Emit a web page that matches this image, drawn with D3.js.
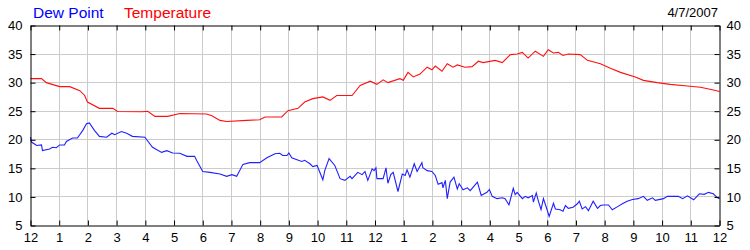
<!DOCTYPE html>
<html>
<head>
<meta charset="utf-8">
<script src="https://cdn.jsdelivr.net/npm/d3@7"></script>
<style>
  body { margin: 0; background: #fff; }
  svg { display: block; }
  text { font-family: "Liberation Sans", Arial, sans-serif; }
</style>
</head>
<body>
<div id="chart"></div>
<script>
'use strict';

// minutes after midnight, degrees
var tempTimes = [0, 23, 33, 61, 82, 103, 113, 119, 144, 172, 182, 234, 245, 260, 287, 312, 368, 379, 396, 410,
  452, 479, 490, 525, 538, 559, 573, 590, 611, 626, 640, 672, 689, 710, 724, 737, 747, 772, 779, 789,
  800, 814, 829, 839, 846, 860, 871, 883, 892, 908, 923, 936, 946, 971, 986, 1003, 1017, 1028, 1040, 1055,
  1072, 1082, 1093, 1103, 1113, 1124, 1149, 1164, 1191, 1212, 1233, 1264, 1281, 1310, 1337, 1373, 1400, 1425, 1440];
var tempValues = [30.7, 30.7, 30.0, 29.3, 29.3, 28.6, 27.8, 26.6, 25.5, 25.5, 24.95, 24.9, 25.0, 24.1, 24.1, 24.6, 24.5, 24.2, 23.4, 23.2,
  23.4, 23.5, 24.0, 24.0, 25.1, 25.5, 26.6, 27.2, 27.5, 26.9, 27.75, 27.75, 29.5, 30.25, 29.7, 30.5, 30.0, 30.7, 30.4, 31.8,
  31.0, 31.5, 32.7, 32.25, 32.9, 32.0, 33.3, 32.7, 33.1, 32.7, 32.8, 33.75, 33.5, 33.9, 33.5, 34.9, 35.0, 35.3, 34.3, 35.5,
  34.6, 35.75, 35.2, 35.3, 34.75, 35.0, 34.9, 33.9, 33.3, 32.5, 31.8, 31.0, 30.4, 30.0, 29.7, 29.4, 29.2, 28.75, 28.45];

var dewTimes = [0, 2, 13, 23, 25, 40, 46, 54, 61, 71, 75, 88, 98, 109, 117, 123, 134, 144, 159, 170,
  176, 190, 201, 213, 239, 255, 274, 285, 297, 312, 327, 343, 347, 360, 375, 396, 410, 421, 431, 444,
  458, 479, 494, 511, 521, 527, 536, 540, 546, 557, 567, 573, 584, 590, 599, 611, 615, 624, 636, 647,
  657, 668, 672, 684, 693, 699, 705, 714, 718, 722, 724, 737, 743, 747, 753, 758, 768, 777, 783, 787,
  793, 802, 808, 818, 820, 829, 839, 846, 852, 860, 862, 867, 871, 877, 885, 892, 896, 904, 913, 919,
  934, 942, 954, 959, 965, 975, 986, 992, 1000, 1009, 1013, 1017, 1028, 1034, 1040, 1049, 1051, 1057, 1061, 1067,
  1072, 1078, 1084, 1093, 1097, 1107, 1113, 1118, 1124, 1134, 1143, 1147, 1153, 1160, 1166, 1176, 1185, 1191, 1197, 1208,
  1216, 1227, 1237, 1247, 1258, 1270, 1281, 1289, 1300, 1306, 1323, 1331, 1354, 1363, 1373, 1386, 1398, 1408, 1417, 1427,
  1436, 1440];
var dewValues = [20.45, 19.6, 19.0, 19.1, 18.1, 18.4, 18.7, 18.6, 19.1, 19.1, 19.7, 20.3, 20.3, 21.6, 22.8, 22.95, 21.6, 20.6, 20.45, 21.15,
  20.9, 21.45, 21.15, 20.6, 20.45, 18.7, 17.8, 18.1, 17.7, 17.65, 17.1, 17.1, 16.4, 14.45, 14.3, 14.0, 13.6, 13.9, 13.6, 15.7,
  16.0, 16.0, 16.85, 17.55, 17.65, 17.25, 17.25, 17.7, 16.85, 16.5, 16.2, 16.4, 15.8, 15.3, 15.5, 13.0, 14.6, 16.7, 15.5, 13.2,
  12.9, 13.6, 13.2, 14.3, 13.9, 14.45, 12.9, 14.9, 14.6, 15.1, 13.2, 13.2, 15.1, 12.4, 13.9, 14.3, 10.95, 14.0, 13.75, 14.75,
  13.45, 15.8, 14.45, 16.0, 15.1, 14.6, 14.45, 13.75, 12.2, 12.5, 11.6, 12.9, 9.7, 12.6, 13.45, 11.4, 12.3, 11.25, 11.6, 11.1,
  12.6, 10.25, 10.8, 11.3, 10.1, 9.7, 9.85, 9.7, 8.6, 11.5, 10.4, 10.8, 9.7, 10.1, 9.85, 10.25, 9.1, 10.7, 9.4, 7.8,
  9.7, 8.2, 6.6, 8.9, 7.9, 7.75, 7.5, 8.5, 8.0, 8.2, 8.8, 9.25, 7.9, 8.3, 7.6, 9.25, 8.0, 8.5, 8.6, 8.6,
  7.75, 8.3, 8.8, 9.25, 9.55, 9.7, 10.1, 9.4, 9.85, 9.4, 9.7, 10.1, 10.1, 9.7, 10.2, 9.5, 10.55, 10.45, 10.8, 10.55,
  9.85, 9.7];

var hourTicks = d3.range(0, 1441, 60);
var yTicks = [5, 10, 15, 20, 25, 30, 35, 40];
var legendLabels = ["Dew Point", "Temperature"];
var dateLabel = "4/7/2007";

var width = 750, height = 250;
var margin = {left: 30.5, right: 719.5, top: 25.5, bottom: 225.5};

var dewColor = "#2020ff";
var tempColor = "#ff1010";
var gridColor = "#cccccc";

var svg = d3.select("#chart").append("svg")
  .attr("width", width)
  .attr("height", height);

var x = d3.scaleLinear().domain([0, 1440]).range([margin.left, margin.right]),
  y = d3.scaleLinear().domain([5, 40]).range([margin.bottom, margin.top]);

function crisp(v) { return Math.round(v - 0.5) + 0.5; }

// grid
var grid = svg.append("g").attr("class", "grid");
grid.selectAll("line.v")
  .data(hourTicks.slice(1, -1))
  .enter().append("line")
  .attr("x1", (d) => crisp(x(d))).attr("x2", (d) => crisp(x(d)))
  .attr("y1", margin.top).attr("y2", margin.bottom)
  .attr("stroke", gridColor);
grid.selectAll("line.h")
  .data(yTicks.slice(1, -1))
  .enter().append("line")
  .attr("y1", (d) => crisp(y(d))).attr("y2", (d) => crisp(y(d)))
  .attr("x1", margin.left).attr("x2", margin.right)
  .attr("stroke", gridColor);

// lines
var line = d3.line()
  .x((d) => x(d[0]))
  .y((d) => y(d[1]));

svg.append("path")
  .datum(d3.zip(tempTimes, tempValues))
  .attr("fill", "none")
  .attr("stroke", tempColor)
  .attr("stroke-width", 1.1)
  .attr("d", line);

svg.append("path")
  .datum(d3.zip(dewTimes, dewValues))
  .attr("fill", "none")
  .attr("stroke", dewColor)
  .attr("stroke-width", 1.1)
  .attr("d", line);

// axes
var hourLabel = (d) => { var h = (d / 60) % 12; return h == 0 ? "12" : String(h); };

function styleAxis(g) {
  g.selectAll("path.domain").attr("stroke", "#000");
  g.selectAll(".tick line").attr("stroke", "#000");
  g.selectAll("text")
    .attr("fill", "#000")
    .style("font-family", "'Liberation Sans', Arial, sans-serif")
    .style("font-size", "13px");
}

svg.append("g")
  .attr("transform", "translate(0," + margin.bottom + ")")
  .call(d3.axisBottom(x).tickValues(hourTicks).tickSize(-5).tickSizeOuter(0).tickPadding(7).tickFormat(hourLabel))
  .call(styleAxis);

svg.append("g")
  .attr("transform", "translate(0," + margin.top + ")")
  .call(d3.axisTop(x).tickValues(hourTicks).tickSize(-5).tickSizeOuter(0).tickFormat(""))
  .call(styleAxis);

svg.append("g")
  .attr("transform", "translate(" + margin.left + ",0)")
  .call(d3.axisLeft(y).tickValues(yTicks).tickSize(-5).tickSizeOuter(0).tickPadding(8))
  .call(styleAxis);

svg.append("g")
  .attr("transform", "translate(" + margin.right + ",0)")
  .call(d3.axisRight(y).tickValues(yTicks).tickSize(-5).tickSizeOuter(0).tickPadding(7))
  .call(styleAxis);

// legend + date
svg.append("text")
  .attr("x", 33).attr("y", 18)
  .attr("fill", "#0000ff")
  .style("font-size", "15.5px")
  .text(legendLabels[0]);

svg.append("text")
  .attr("x", 124).attr("y", 18)
  .attr("fill", "#ff0000")
  .style("font-size", "15.5px")
  .text(legendLabels[1]);

svg.append("text")
  .attr("x", 718).attr("y", 17)
  .attr("text-anchor", "end")
  .attr("fill", "#000")
  .style("font-size", "13px")
  .text(dateLabel);
</script>
</body>
</html>
